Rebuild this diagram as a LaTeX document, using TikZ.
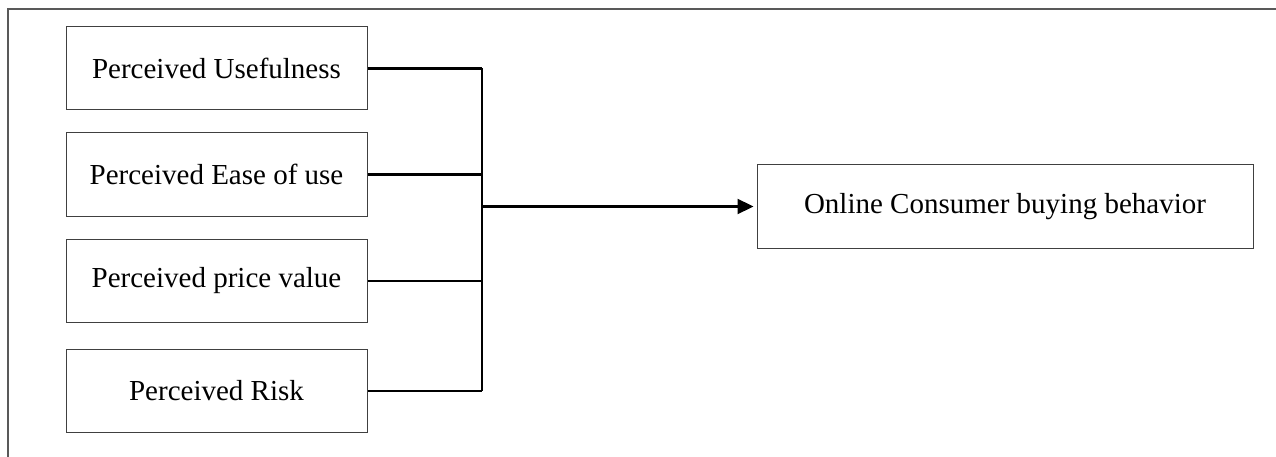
\documentclass[tikz,border=0pt]{standalone}
\usepackage{fontspec}
\setmainfont{Liberation Serif}
\usetikzlibrary{arrows.meta}
\begin{document}
\begin{tikzpicture}[x=1pt,y=-1pt,
  box/.style={draw=black!75,line width=1pt,rectangle,minimum width=301pt,minimum height=83pt,inner sep=0pt,font=\fontsize{29}{35}\selectfont},
  conn/.style={line width=2.2pt,black},
  frame/.style={draw=black!65,line width=1.2pt}]
\useasboundingbox (0,0) rectangle (1276,457);
\draw[frame] (8,457) -- (8,9) -- (1276,9);
\node[box] (b1) at (216.5,68.5) {Perceived Usefulness};
\node[box] (b2) at (216.5,174.5) {Perceived Ease of use};
\node[box] (b3) at (216.5,281) {Perceived price value};
\node[box] (b4) at (216.5,391) {Perceived Risk};
\node[box,minimum width=496pt] (out) at (1005,206.5) {Online Consumer buying behavior};
\coordinate (jx) at (482,0);
\foreach \b in {b1,b2,b3,b4}{\draw[conn] (\b.east) -- (\b.east -| jx);}
\draw[conn] (b1.east -| jx) -- (b4.east -| jx);
\draw[conn,-{Triangle[length=16pt,width=15pt]}] (jx |- out.west) -- ([xshift=-3pt]out.west);
\end{tikzpicture}
\end{document}
